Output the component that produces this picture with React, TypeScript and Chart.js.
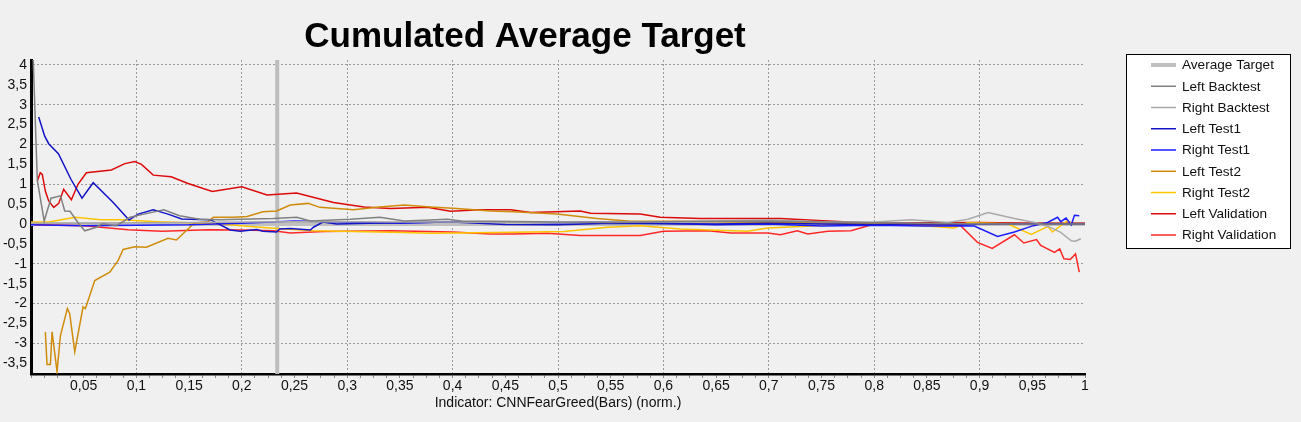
import React, { useEffect, useRef } from 'react';
import { Chart, registerables } from 'chart.js';

Chart.register(...registerables);

// ---------- text ----------
const chartTitle = 'Cumulated Average Target';
const xAxisTitle = 'Indicator: CNNFearGreed(Bars) (norm.)';
const seriesNames = [
  'Average Target',
  'Left Backtest',
  'Right Backtest',
  'Left Test1',
  'Right Test1',
  'Left Test2',
  'Right Test2',
  'Left Validation',
  'Right Validation',
];

// ---------- axis ranges ----------
const xRange = [0, 1];
const yRange = [-3.77, 4.125];
const xTickStep = 0.0125;
const yTickStep = 0.5;

// ---------- data: [indicator, value] ----------
const averageTarget: [number, number][] = [[0, 0], [1, 0]];
const markerIndicator = [0.2336];

const leftBacktest: [number, number][] = [
  [0.0015, 4.6], [0.006, 1.1], [0.0125, 0.08], [0.019, 0.65], [0.028, 0.71], [0.032, 0.33],
  [0.037, 0.32], [0.045, 0.02], [0.051, -0.17], [0.062, -0.08], [0.068, 0.01], [0.081, -0.04],
  [0.094, 0.17], [0.107, 0.25], [0.126, 0.36], [0.141, 0.21], [0.16, 0.12], [0.18, 0.11],
  [0.198, 0.12], [0.23, 0.14], [0.252, 0.17], [0.265, 0.08], [0.303, 0.12], [0.331, 0.17],
  [0.354, 0.08], [0.379, 0.1], [0.395, 0.12], [0.41, 0.07], [0.436, 0.07], [0.5, 0.05],
  [0.55, 0.04], [0.6, 0.06], [0.65, 0.07], [0.7, 0.08], [0.75, 0.05], [0.8, 0.03],
  [0.85, 0.02], [0.9, 0.01], [0.95, 0.0], [1.0, 0.0],
];

const rightBacktest: [number, number][] = [
  [0, 0.02], [0.05, 0.02], [0.1, 0.03], [0.15, 0.04], [0.2, 0.05], [0.25, 0.06], [0.3, 0.06],
  [0.35, 0.05], [0.4, 0.05], [0.45, 0.04], [0.5, 0.04], [0.55, 0.05], [0.6, 0.06], [0.65, 0.08],
  [0.7, 0.1], [0.75, 0.06], [0.8, 0.05], [0.835, 0.11], [0.87, 0.04], [0.889, 0.12],
  [0.908, 0.29], [0.933, 0.14], [0.952, 0.04], [0.965, -0.06], [0.977, -0.21], [0.987, -0.42],
  [0.991, -0.43], [0.996, -0.37],
];

const leftTest1: [number, number][] = [
  [0.0073, 2.69], [0.013, 2.21], [0.0168, 2.02], [0.026, 1.77], [0.038, 1.12], [0.0484, 0.65],
  [0.059, 1.04], [0.078, 0.54], [0.093, 0.1], [0.1016, 0.25], [0.116, 0.36], [0.13, 0.25],
  [0.143, 0.13], [0.17, 0.11], [0.189, -0.15], [0.1985, -0.18], [0.214, -0.14], [0.22, -0.18],
  [0.233, -0.2], [0.236, -0.125], [0.246, -0.11], [0.265, -0.15], [0.268, -0.08], [0.277, 0.05],
  [0.29, 0.0], [0.32, 0.02], [0.35, 0.03], [0.4, 0.05], [0.45, -0.01], [0.5, -0.02],
  [0.55, 0.02], [0.6, 0.01], [0.65, 0.0], [0.7, 0.02], [0.75, 0.0], [0.8, -0.01],
  [0.85, 0.01], [0.9, 0.0], [0.95, 0.01], [1.0, 0.0],
];

const rightTest1: [number, number][] = [
  [0, -0.02], [0.05, -0.04], [0.1, -0.03], [0.15, -0.02], [0.2, 0.02], [0.25, 0.08], [0.3, 0.05],
  [0.35, 0.02], [0.4, 0.06], [0.45, 0.05], [0.5, 0.03], [0.55, 0.05], [0.6, 0.02], [0.65, -0.02],
  [0.7, 0.0], [0.75, -0.05], [0.8, -0.03], [0.85, -0.05], [0.882, -0.04], [0.895, -0.05],
  [0.917, -0.31], [0.933, -0.2], [0.951, -0.04], [0.9645, 0.04], [0.974, 0.17], [0.977, 0.06],
  [0.982, 0.15], [0.987, -0.02], [0.99, 0.22], [0.9946, 0.21],
];

const leftTest2: [number, number][] = [
  [0.0136, -2.71], [0.0152, -3.53], [0.0184, -3.53], [0.02, -2.71], [0.0247, -3.71],
  [0.0279, -2.81], [0.0345, -2.125], [0.0367, -2.25], [0.0415, -3.21], [0.0494, -2.08],
  [0.0516, -2.125], [0.0605, -1.42], [0.0747, -1.21], [0.0826, -0.92], [0.0874, -0.64],
  [0.0985, -0.57], [0.1095, -0.58], [0.13, -0.36], [0.138, -0.4], [0.155, 0.03], [0.168, 0.06],
  [0.173, 0.17], [0.192, 0.17], [0.205, 0.19], [0.22, 0.31], [0.233, 0.33], [0.246, 0.48],
  [0.263, 0.52], [0.274, 0.42], [0.306, 0.36], [0.328, 0.42], [0.354, 0.48], [0.379, 0.43],
  [0.404, 0.39], [0.436, 0.33], [0.458, 0.31], [0.499, 0.25], [0.537, 0.14], [0.569, 0.07],
  [0.616, 0.07], [0.711, 0.04], [0.75, 0.03], [0.8, 0.0], [0.85, -0.03], [0.9, 0.02],
  [0.95, 0.0], [1.0, 0.0],
];

const rightTest2: [number, number][] = [
  [0, 0.05], [0.018, 0.06], [0.042, 0.17], [0.066, 0.11], [0.085, 0.11], [0.12, 0.06],
  [0.15, 0.03], [0.18, 0.0], [0.211, -0.07], [0.24, -0.125], [0.268, -0.17], [0.354, -0.21],
  [0.379, -0.23], [0.442, -0.21], [0.506, -0.19], [0.547, -0.08], [0.578, -0.04], [0.616, -0.125],
  [0.68, -0.18], [0.699, -0.1], [0.756, -0.03], [0.8, 0.0], [0.85, -0.05], [0.876, -0.1],
  [0.889, 0.04], [0.927, 0.0], [0.949, -0.26], [0.965, -0.06], [0.969, -0.2], [0.983, 0.08],
  [0.987, 0.04],
];

const leftValidation: [number, number][] = [
  [0.006, 1.08], [0.0088, 1.29], [0.0107, 1.25], [0.0136, 0.83], [0.0168, 0.58], [0.0216, 0.42],
  [0.0263, 0.52], [0.031, 0.875], [0.0383, 0.61], [0.0446, 1.0], [0.0525, 1.29], [0.0763, 1.36],
  [0.089, 1.52], [0.0985, 1.57], [0.1048, 1.5], [0.116, 1.23], [0.133, 1.19], [0.149, 1.02],
  [0.172, 0.82], [0.2, 0.94], [0.224, 0.73], [0.252, 0.78], [0.287, 0.54], [0.316, 0.43],
  [0.341, 0.39], [0.376, 0.42], [0.398, 0.32], [0.426, 0.36], [0.455, 0.36], [0.474, 0.29],
  [0.521, 0.33], [0.531, 0.27], [0.578, 0.25], [0.597, 0.17], [0.635, 0.14], [0.711, 0.14],
  [0.756, 0.08], [0.8, 0.02], [0.85, 0.03], [0.9, 0.04], [0.95, 0.02], [1.0, 0.02],
];

const rightValidation: [number, number][] = [
  [0.003, -0.02], [0.051, -0.04], [0.092, -0.14], [0.124, -0.18], [0.168, -0.14], [0.2, -0.15],
  [0.23, -0.17], [0.246, -0.225], [0.278, -0.19], [0.341, -0.17], [0.4, -0.2], [0.436, -0.25],
  [0.458, -0.25], [0.49, -0.23], [0.521, -0.29], [0.578, -0.29], [0.6, -0.18], [0.642, -0.17],
  [0.664, -0.225], [0.699, -0.225], [0.711, -0.27], [0.727, -0.17], [0.737, -0.25], [0.756, -0.18],
  [0.778, -0.17], [0.8, 0.0], [0.85, -0.02], [0.882, -0.04], [0.898, -0.46], [0.912, -0.61],
  [0.933, -0.27], [0.942, -0.475], [0.954, -0.39], [0.958, -0.54], [0.971, -0.71], [0.976, -0.625],
  [0.98, -0.875], [0.986, -0.89], [0.991, -0.75], [0.9946, -1.21],
];

const seriesData = [
  averageTarget, leftBacktest, rightBacktest, leftTest1, rightTest1,
  leftTest2, rightTest2, leftValidation, rightValidation,
];

// ---------- styles ----------
const seriesColors = [
  '#c0c0c0', '#808080', '#a9a9a9', '#1414c8', '#1c1cff',
  '#d08c0c', '#ffc400', '#dc0a0a', '#ff2828',
];
const seriesWidths = [4, 1.5, 1.5, 1.5, 1.5, 1.5, 1.5, 1.5, 1.5];
const FONT = "'Liberation Sans', Arial, sans-serif";

const fmt = (v: number) => String(Math.round(v * 100) / 100).replace('.', ',');

const decorPlugin = {
  id: 'decor',
  afterDraw(chart: any) {
    const ctx = chart.ctx as CanvasRenderingContext2D;
    ctx.save();
    // title
    ctx.fillStyle = '#000';
    ctx.font = `bold 35px ${FONT}`;
    ctx.textAlign = 'center';
    ctx.textBaseline = 'alphabetic';
    ctx.fillText(chartTitle, 525, 47);

    // legend
    const bx = 1126, by = 54, bw = 164, bh = 194;
    ctx.fillStyle = '#ffffff';
    ctx.fillRect(bx, by, bw, bh);
    ctx.strokeStyle = '#000';
    ctx.lineWidth = 1;
    ctx.strokeRect(bx + 0.5, by + 0.5, bw, bh);
    ctx.font = `13.6px ${FONT}`;
    ctx.textAlign = 'left';
    ctx.textBaseline = 'middle';
    const items = chart.data.datasets.filter((d: any) => d.inLegend);
    items.forEach((d: any, i: number) => {
      const y = 65 + i * 21.25;
      ctx.strokeStyle = d.borderColor;
      ctx.lineWidth = d.borderWidth > 2 ? 4 : 1.5;
      ctx.beginPath();
      ctx.moveTo(1151, y);
      ctx.lineTo(1176, y);
      ctx.stroke();
      ctx.fillStyle = '#111';
      ctx.fillText(d.label, 1182, y + 0.5);
    });
    ctx.restore();
  },
};

export default function App() {
  const ref = useRef<HTMLCanvasElement | null>(null);

  useEffect(() => {
    if (!ref.current) return;
    const datasets: any[] = seriesNames.map((name, i) => ({
      label: name,
      inLegend: true,
      data: seriesData[i].map(([x, y]) => ({ x, y })),
      borderColor: seriesColors[i],
      backgroundColor: seriesColors[i],
      borderWidth: seriesWidths[i],
      pointRadius: 0,
      tension: 0,
      fill: false,
      order: i === 0 ? 10 : 1,
    }));
    datasets.push({
      label: 'marker',
      inLegend: false,
      data: [{ x: markerIndicator[0], y: yRange[0] }, { x: markerIndicator[0], y: yRange[1] }],
      borderColor: '#bdbdbd',
      borderWidth: 4,
      pointRadius: 0,
      fill: false,
      order: 20,
    });

    const chart = new Chart(ref.current, {
      type: 'line',
      data: { datasets },
      options: {
        animation: false,
        responsive: false,
        events: [],
        layout: { padding: { top: 60, right: 216, left: 0, bottom: 0 } },
        plugins: {
          legend: { display: false },
          title: { display: false },
          tooltip: { enabled: false },
        },
        scales: {
          x: {
            type: 'linear',
            min: xRange[0],
            max: xRange[1],
            afterFit: (s: any) => { s.height = 48; },
            border: {
              display: true, color: '#000', width: 2.5,
              dash: [2, 2],
            },
            grid: {
              drawTicks: true,
              tickLength: 4,
              tickColor: '#8a8a8a',
              color: (c: any) => {
                const k = Math.round(c.tick.value / xTickStep);
                return k > 0 && k < 80 && k % 8 === 0 ? '#9a9a9a' : 'rgba(0,0,0,0)';
              },
              lineWidth: 1,
            },
            ticks: {
              stepSize: xTickStep,
              autoSkip: false,
              maxRotation: 0,
              includeBounds: false,
              padding: 0,
              color: '#111',
              font: { family: FONT, size: 14 },
              callback: (v: any) => {
                const k = Math.round(Number(v) / xTickStep);
                if (k === 0 || k % 4 !== 0) return '';
                return fmt(Number(v));
              },
            },
            title: {
              display: true,
              text: xAxisTitle,
              color: '#111',
              font: { family: FONT, size: 14, lineHeight: 1.2 },
              padding: { top: 0, bottom: 10 },
            },
          },
          y: {
            type: 'linear',
            min: yRange[0],
            max: yRange[1],
            afterFit: (s: any) => { s.width = 31; },
            border: { display: true, color: '#000', width: 3, dash: [2, 2] },
            grid: {
              drawTicks: false,
              color: (c: any) => {
                const v = c.tick.value;
                return Math.abs(v - Math.round(v)) < 1e-6 ? '#9a9a9a' : 'rgba(0,0,0,0)';
              },
              lineWidth: 1,
            },
            ticks: {
              stepSize: yTickStep,
              includeBounds: false,
              padding: 4,
              color: '#111',
              font: { family: FONT, size: 14 },
              callback: (v: any) => fmt(Number(v)),
            },
          },
        },
      } as any,
      plugins: [decorPlugin],
    });
    return () => chart.destroy();
  }, []);

  return (
    <div style={{ position: 'fixed', left: 0, top: 0, width: 1301, height: 422, background: '#f0f0f0' }}>
      <canvas ref={ref} width={1301} height={422} style={{ display: 'block' }} />
    </div>
  );
}
